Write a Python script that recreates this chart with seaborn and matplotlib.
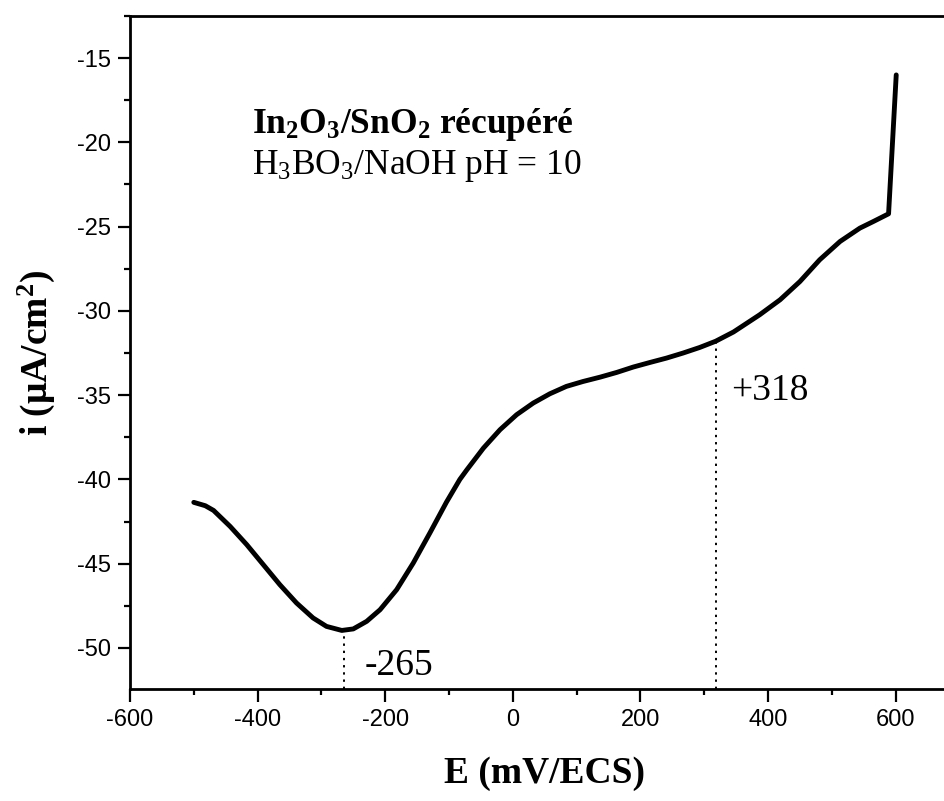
import matplotlib
matplotlib.use("Agg")
import matplotlib.pyplot as plt
from matplotlib.ticker import MultipleLocator
import seaborn as sns
import pandas as pd

# ---- data ----
E_mV = [-500, -482, -469, -443, -417, -391, -365, -339, -313, -292, -268, -250,
        -229, -208, -182, -156, -130, -104, -83, -72, -46, -20, 6, 32, 58, 84,
        110, 137, 163, 189, 215, 241, 267, 293, 318, 346, 387, 419, 450, 481,
        513, 544, 565, 589, 601]
i_uA = [-41.36, -41.56, -41.84, -42.79, -43.87, -45.06, -46.25, -47.33, -48.22,
        -48.72, -48.96, -48.87, -48.42, -47.73, -46.54, -44.96, -43.18, -41.35,
        -40.0, -39.43, -38.14, -37.05, -36.16, -35.47, -34.92, -34.48, -34.19,
        -33.93, -33.65, -33.33, -33.06, -32.80, -32.50, -32.17, -31.80, -31.25,
        -30.23, -29.34, -28.26, -26.97, -25.88, -25.09, -24.70, -24.24, -16.0]

peak_E = [-265, 318]
peak_i = [-49.0, -31.8]
peak_labels = ["-265", "+318"]

x_ticks = [-600, -400, -200, 0, 200, 400, 600]
y_ticks = [-50, -45, -40, -35, -30, -25, -20, -15]

df = pd.DataFrame({"E": E_mV, "i": i_uA})

sns.set_style("ticks")
plt.rcParams["font.family"] = ["Liberation Sans", "DejaVu Sans"]
plt.rcParams["axes.unicode_minus"] = False
plt.rcParams["text.color"] = "black"
plt.rcParams["axes.labelcolor"] = "black"
plt.rcParams["xtick.color"] = "black"
plt.rcParams["ytick.color"] = "black"
plt.rcParams["mathtext.fontset"] = "custom"
plt.rcParams["mathtext.rm"] = "Liberation Serif"
plt.rcParams["mathtext.it"] = "Liberation Serif:italic"
plt.rcParams["mathtext.bf"] = "Liberation Serif:bold"

fig = plt.figure(figsize=(9.44, 8.01), dpi=100)
ax = fig.add_axes([0.1377, 0.1395, 0.8786, 0.8406])

sns.lineplot(data=df, x="E", y="i", sort=False, estimator=None,
             color="black", linewidth=3.5, ax=ax)

ax.set_xlim(-600, 700)
ax.set_ylim(-52.45, -12.5)

# dotted markers for peak positions
for e, iv in zip(peak_E, peak_i):
    ax.vlines(e, -52.45, iv, colors="black", linestyles=(0, (1.2, 2.5)), linewidth=1.4)

ax.text(-232, -51.6, peak_labels[0], family="Liberation Serif", fontsize=27,
        va="baseline", ha="left", color="black")
ax.text(343, -35.27, peak_labels[1], family="Liberation Serif", fontsize=27,
        va="baseline", ha="left", color="black")

ax.text(-409, -19.45, r"$\mathbf{In_2O_3/SnO_2}$ récupéré", family="Liberation Serif",
        fontweight="bold", fontsize=25.5, va="baseline", ha="left", color="black")
ax.text(-409, -21.9, r"$\mathrm{H_3BO_3/NaOH}$ pH = 10", family="Liberation Serif",
        fontsize=25.5, va="baseline", ha="left", color="black")

ax.set_xticks(x_ticks)
ax.set_yticks(y_ticks)
ax.xaxis.set_minor_locator(MultipleLocator(100))
ax.yaxis.set_minor_locator(MultipleLocator(2.5))
ax.tick_params(axis="both", which="major", length=9, width=1.6, direction="out",
               labelsize=17, pad=5, colors="black")
ax.tick_params(axis="both", which="minor", length=4.5, width=1.6, direction="out",
               colors="black")
ax.tick_params(top=False, right=False, which="both")

for s in ["left", "bottom", "top", "right"]:
    ax.spines[s].set_linewidth(2.0)
    ax.spines[s].set_color("black")

ax.set_xlabel("E (mV/ECS)", family="Liberation Serif", fontweight="bold",
              fontsize=27, labelpad=18, color="black")
ax.set_ylabel(r"i ($\mathbf{\mu}$A/cm$^\mathbf{2}$)", family="Liberation Serif",
              fontweight="bold", fontsize=27, labelpad=14, color="black")

fig.savefig("out.png", dpi=100)
